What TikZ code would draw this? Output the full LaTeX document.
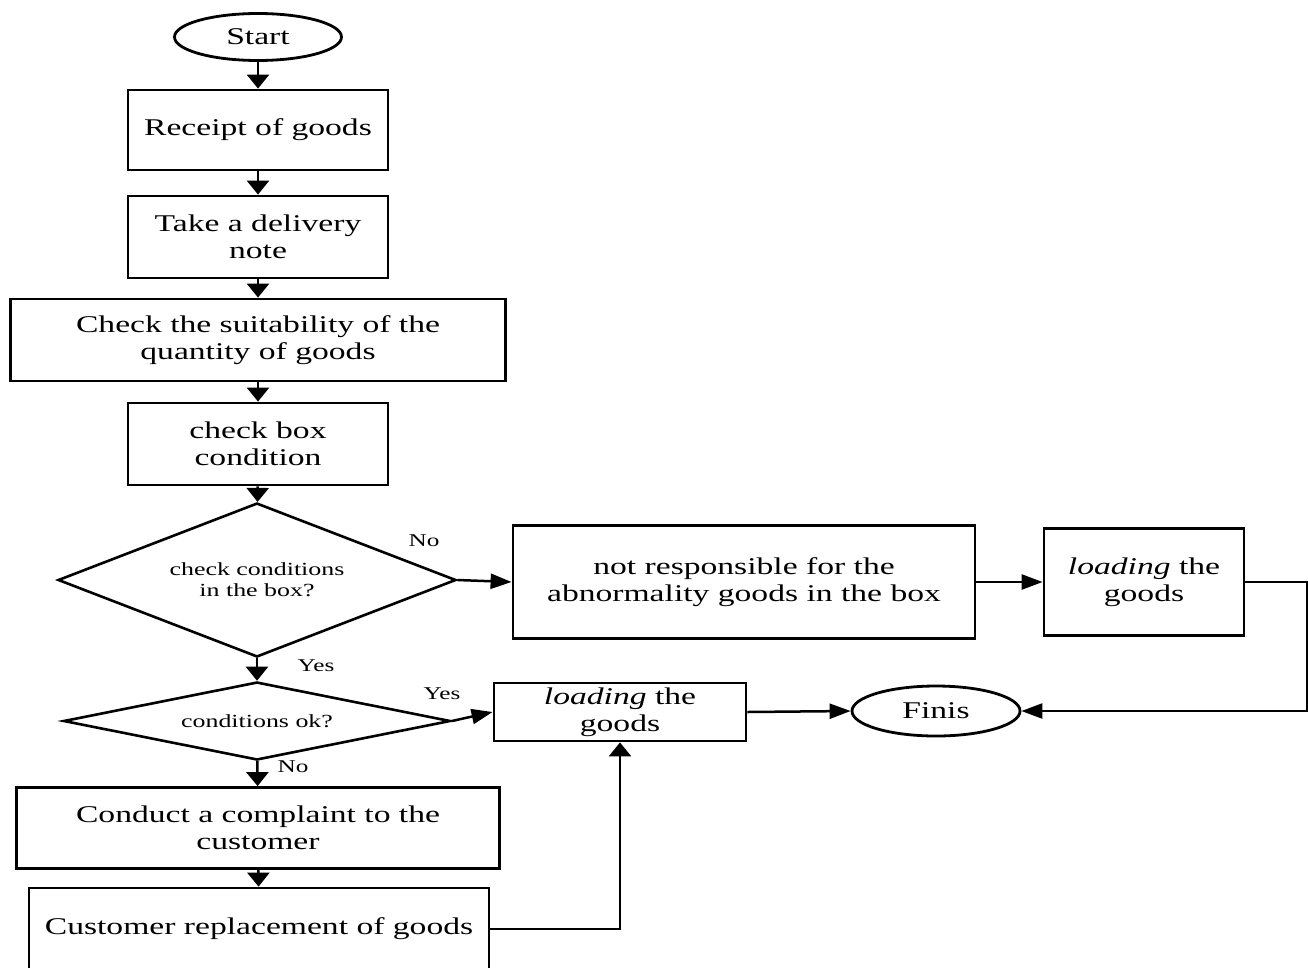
\documentclass[tikz,border=0pt]{standalone}
\usepackage{fontspec}
\setmainfont{Liberation Serif}[FakeStretch=1.4]
\usetikzlibrary{shapes.geometric,arrows.meta}
\begin{document}
\begin{tikzpicture}[x=1pt,y=-1pt,
  every node/.style={font=\fontsize{24}{27}\selectfont, align=center, inner sep=0pt},
  proc/.style={draw, rectangle, line width=2.8pt},
  term/.style={draw, ellipse, line width=2.8pt},
  decide/.style={draw, diamond, line width=2.6pt, font=\fontsize{18.5}{21}\selectfont},
  lbl/.style={font=\fontsize{18}{20}\selectfont},
  link/.style={line width=2.5pt},
  varrow/.style={link, -{Triangle[length=14pt,width=22pt]}},
  harrow/.style={link, -{Triangle[length=21pt,width=15pt]}}]
\useasboundingbox (0,0) rectangle (1308,967);
\clip (0,0) rectangle (1308,967);

% main column
\node[term, minimum width=167pt, minimum height=47pt] (start) at (258,37) {Start};
\node[proc, minimum width=260pt, minimum height=80pt] (receipt) at (258,130) {Receipt of goods};
\node[proc, minimum width=260pt, minimum height=82pt] (note) at (258,237) {Take a delivery\\note};
\node[proc, minimum width=495pt, minimum height=82pt] (qty) at (258,340) {Check the suitability of the\\quantity of goods};
\node[proc, minimum width=260pt, minimum height=82pt] (boxcond) at (258,444) {check box\\condition};
\node[decide, aspect=2.58, minimum width=398pt, minimum height=154pt] (d1) at (257,580) {check conditions\\in the box?};
\node[decide, aspect=4.96, minimum width=387pt, minimum height=78pt] (d2) at (257,721) {conditions ok?};
\node[proc, minimum width=483pt, minimum height=81pt] (complaint) at (258,828) {Conduct a complaint to the\\customer};
\node[proc, minimum width=460pt, minimum height=82pt] (replace) at (259,929) {Customer replacement of goods};

% right-hand branches
\node[proc, minimum width=462pt, minimum height=113pt] (notresp) at (744,582) {not responsible for the\\abnormality goods in the box};
\node[proc, minimum width=200pt, minimum height=107pt] (load1) at (1144,582) {\textit{loading} the\\goods};
\node[proc, minimum width=252pt, minimum height=58pt] (load2) at (620,712) {\textit{loading} the\\goods};
\node[term, minimum width=168pt, minimum height=50pt] (finis) at (936,711) {Finis};

% branch labels
\node[lbl] (no1) at (424,541) {No};
\node[lbl] (yes1) at (316,666) {Yes};
\node[lbl] (yes2) at (442,694) {Yes};
\node[lbl] (no2) at (293,767) {No};

% bend points
\coordinate (rc) at (1307,711);
\coordinate (bc) at (620,929);

% connectors
\draw[varrow] (start) -- (receipt);
\draw[varrow] (receipt) -- (note);
\draw[varrow] (note) -- (qty);
\draw[varrow] (qty) -- (boxcond);
\draw[varrow] (boxcond) -- (d1);
\draw[varrow] (d1) -- (d2);
\draw[varrow] (d2) -- (complaint);
\draw[varrow] (complaint) -- (replace);
\draw[harrow] (d1.east) -- (notresp.west);
\draw[harrow] (notresp.east) -- (notresp.east -| load1.west);
\draw[harrow] (load1.east) -| (rc) -- (finis.east);
\draw[harrow] (d2.east) -- (load2.west);
\draw[harrow] (load2.east) -- (finis.west);
\draw[varrow] (replace.east) -- (bc) -- (load2.south);
\end{tikzpicture}
\end{document}
